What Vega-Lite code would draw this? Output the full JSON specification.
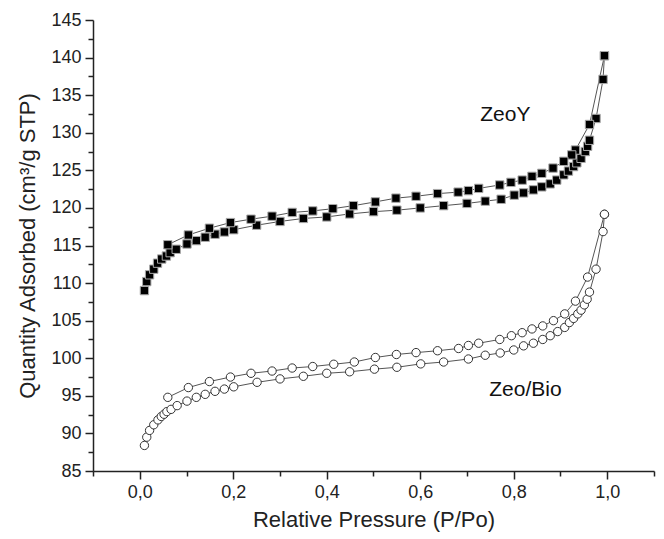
{
  "$schema": "https://vega.github.io/schema/vega-lite/v6.json",
  "width": 561,
  "height": 451,
  "autosize": {"type": "none"},
  "padding": {"left": 93, "top": 20, "right": 10, "bottom": 68},
  "background": "white",
  "config": {
    "view": {"stroke": null},
    "font": "Liberation Sans",
    "axis": {
      "grid": false,
      "domainColor": "#222",
      "domainWidth": 1.5,
      "tickColor": "#222",
      "tickWidth": 1.5,
      "labelColor": "#222",
      "labelFont": "Liberation Sans",
      "labelFontSize": 18,
      "titleFont": "Liberation Sans",
      "titleFontSize": 22,
      "titleFontWeight": "normal",
      "titleColor": "#222",
      "labelFlush": false
    }
  },
  "datasets": {
    "iso": [
      {"s": "ZeoY", "curve": "ZeoY-ads", "i": 1, "p": 0.010, "q": 109.0},
      {"s": "ZeoY", "curve": "ZeoY-ads", "i": 2, "p": 0.015, "q": 110.2},
      {"s": "ZeoY", "curve": "ZeoY-ads", "i": 3, "p": 0.021, "q": 111.1},
      {"s": "ZeoY", "curve": "ZeoY-ads", "i": 4, "p": 0.030, "q": 111.85},
      {"s": "ZeoY", "curve": "ZeoY-ads", "i": 5, "p": 0.038, "q": 112.65},
      {"s": "ZeoY", "curve": "ZeoY-ads", "i": 6, "p": 0.047, "q": 113.2},
      {"s": "ZeoY", "curve": "ZeoY-ads", "i": 7, "p": 0.057, "q": 113.6},
      {"s": "ZeoY", "curve": "ZeoY-ads", "i": 8, "p": 0.065, "q": 114.05},
      {"s": "ZeoY", "curve": "ZeoY-ads", "i": 9, "p": 0.078, "q": 114.5},
      {"s": "ZeoY", "curve": "ZeoY-ads", "i": 10, "p": 0.101, "q": 115.2},
      {"s": "ZeoY", "curve": "ZeoY-ads", "i": 11, "p": 0.121, "q": 115.65},
      {"s": "ZeoY", "curve": "ZeoY-ads", "i": 12, "p": 0.140, "q": 116.1},
      {"s": "ZeoY", "curve": "ZeoY-ads", "i": 13, "p": 0.161, "q": 116.5},
      {"s": "ZeoY", "curve": "ZeoY-ads", "i": 14, "p": 0.181, "q": 116.8},
      {"s": "ZeoY", "curve": "ZeoY-ads", "i": 15, "p": 0.201, "q": 117.1},
      {"s": "ZeoY", "curve": "ZeoY-ads", "i": 16, "p": 0.250, "q": 117.7},
      {"s": "ZeoY", "curve": "ZeoY-ads", "i": 17, "p": 0.300, "q": 118.2},
      {"s": "ZeoY", "curve": "ZeoY-ads", "i": 18, "p": 0.350, "q": 118.6},
      {"s": "ZeoY", "curve": "ZeoY-ads", "i": 19, "p": 0.400, "q": 118.8},
      {"s": "ZeoY", "curve": "ZeoY-ads", "i": 20, "p": 0.449, "q": 119.2},
      {"s": "ZeoY", "curve": "ZeoY-ads", "i": 21, "p": 0.500, "q": 119.5},
      {"s": "ZeoY", "curve": "ZeoY-ads", "i": 22, "p": 0.550, "q": 119.7},
      {"s": "ZeoY", "curve": "ZeoY-ads", "i": 23, "p": 0.600, "q": 120.0},
      {"s": "ZeoY", "curve": "ZeoY-ads", "i": 24, "p": 0.650, "q": 120.3},
      {"s": "ZeoY", "curve": "ZeoY-ads", "i": 25, "p": 0.700, "q": 120.6},
      {"s": "ZeoY", "curve": "ZeoY-ads", "i": 26, "p": 0.739, "q": 120.9},
      {"s": "ZeoY", "curve": "ZeoY-ads", "i": 27, "p": 0.773, "q": 121.15},
      {"s": "ZeoY", "curve": "ZeoY-ads", "i": 28, "p": 0.801, "q": 121.7},
      {"s": "ZeoY", "curve": "ZeoY-ads", "i": 29, "p": 0.821, "q": 122.0},
      {"s": "ZeoY", "curve": "ZeoY-ads", "i": 30, "p": 0.842, "q": 122.4},
      {"s": "ZeoY", "curve": "ZeoY-ads", "i": 31, "p": 0.860, "q": 122.8},
      {"s": "ZeoY", "curve": "ZeoY-ads", "i": 32, "p": 0.878, "q": 123.2},
      {"s": "ZeoY", "curve": "ZeoY-ads", "i": 33, "p": 0.892, "q": 123.7},
      {"s": "ZeoY", "curve": "ZeoY-ads", "i": 34, "p": 0.907, "q": 124.4},
      {"s": "ZeoY", "curve": "ZeoY-ads", "i": 35, "p": 0.917, "q": 124.9},
      {"s": "ZeoY", "curve": "ZeoY-ads", "i": 36, "p": 0.928, "q": 125.5},
      {"s": "ZeoY", "curve": "ZeoY-ads", "i": 37, "p": 0.935, "q": 126.0},
      {"s": "ZeoY", "curve": "ZeoY-ads", "i": 38, "p": 0.944, "q": 126.6},
      {"s": "ZeoY", "curve": "ZeoY-ads", "i": 39, "p": 0.953, "q": 127.5},
      {"s": "ZeoY", "curve": "ZeoY-ads", "i": 40, "p": 0.958, "q": 128.2},
      {"s": "ZeoY", "curve": "ZeoY-ads", "i": 41, "p": 0.962, "q": 129.0},
      {"s": "ZeoY", "curve": "ZeoY-ads", "i": 42, "p": 0.976, "q": 131.9},
      {"s": "ZeoY", "curve": "ZeoY-ads", "i": 43, "p": 0.991, "q": 137.1},
      {"s": "ZeoY", "curve": "ZeoY-ads", "i": 44, "p": 0.994, "q": 140.25},
      {"s": "ZeoY", "curve": "ZeoY-des", "i": 1, "p": 0.994, "q": 140.25},
      {"s": "ZeoY", "curve": "ZeoY-des", "i": 2, "p": 0.962, "q": 131.1},
      {"s": "ZeoY", "curve": "ZeoY-des", "i": 3, "p": 0.932, "q": 127.7},
      {"s": "ZeoY", "curve": "ZeoY-des", "i": 4, "p": 0.924, "q": 127.05},
      {"s": "ZeoY", "curve": "ZeoY-des", "i": 5, "p": 0.907, "q": 126.2},
      {"s": "ZeoY", "curve": "ZeoY-des", "i": 6, "p": 0.884, "q": 125.3},
      {"s": "ZeoY", "curve": "ZeoY-des", "i": 7, "p": 0.860, "q": 124.6},
      {"s": "ZeoY", "curve": "ZeoY-des", "i": 8, "p": 0.839, "q": 124.2},
      {"s": "ZeoY", "curve": "ZeoY-des", "i": 9, "p": 0.818, "q": 123.7},
      {"s": "ZeoY", "curve": "ZeoY-des", "i": 10, "p": 0.794, "q": 123.4},
      {"s": "ZeoY", "curve": "ZeoY-des", "i": 11, "p": 0.770, "q": 123.05},
      {"s": "ZeoY", "curve": "ZeoY-des", "i": 12, "p": 0.725, "q": 122.6},
      {"s": "ZeoY", "curve": "ZeoY-des", "i": 13, "p": 0.703, "q": 122.3},
      {"s": "ZeoY", "curve": "ZeoY-des", "i": 14, "p": 0.681, "q": 122.1},
      {"s": "ZeoY", "curve": "ZeoY-des", "i": 15, "p": 0.637, "q": 121.9},
      {"s": "ZeoY", "curve": "ZeoY-des", "i": 16, "p": 0.591, "q": 121.55},
      {"s": "ZeoY", "curve": "ZeoY-des", "i": 17, "p": 0.548, "q": 121.3},
      {"s": "ZeoY", "curve": "ZeoY-des", "i": 18, "p": 0.504, "q": 120.8},
      {"s": "ZeoY", "curve": "ZeoY-des", "i": 19, "p": 0.457, "q": 120.3},
      {"s": "ZeoY", "curve": "ZeoY-des", "i": 20, "p": 0.413, "q": 119.9},
      {"s": "ZeoY", "curve": "ZeoY-des", "i": 21, "p": 0.370, "q": 119.6},
      {"s": "ZeoY", "curve": "ZeoY-des", "i": 22, "p": 0.326, "q": 119.4},
      {"s": "ZeoY", "curve": "ZeoY-des", "i": 23, "p": 0.283, "q": 118.9},
      {"s": "ZeoY", "curve": "ZeoY-des", "i": 24, "p": 0.238, "q": 118.5},
      {"s": "ZeoY", "curve": "ZeoY-des", "i": 25, "p": 0.194, "q": 118.05},
      {"s": "ZeoY", "curve": "ZeoY-des", "i": 26, "p": 0.149, "q": 117.3},
      {"s": "ZeoY", "curve": "ZeoY-des", "i": 27, "p": 0.104, "q": 116.4},
      {"s": "ZeoY", "curve": "ZeoY-des", "i": 28, "p": 0.060, "q": 115.1},
      {"s": "Zeo/Bio", "curve": "Bio-ads", "i": 1, "p": 0.010, "q": 88.4},
      {"s": "Zeo/Bio", "curve": "Bio-ads", "i": 2, "p": 0.015, "q": 89.5},
      {"s": "Zeo/Bio", "curve": "Bio-ads", "i": 3, "p": 0.021, "q": 90.4},
      {"s": "Zeo/Bio", "curve": "Bio-ads", "i": 4, "p": 0.030, "q": 91.15},
      {"s": "Zeo/Bio", "curve": "Bio-ads", "i": 5, "p": 0.039, "q": 91.8},
      {"s": "Zeo/Bio", "curve": "Bio-ads", "i": 6, "p": 0.046, "q": 92.25},
      {"s": "Zeo/Bio", "curve": "Bio-ads", "i": 7, "p": 0.052, "q": 92.55},
      {"s": "Zeo/Bio", "curve": "Bio-ads", "i": 8, "p": 0.058, "q": 92.9},
      {"s": "Zeo/Bio", "curve": "Bio-ads", "i": 9, "p": 0.067, "q": 93.2},
      {"s": "Zeo/Bio", "curve": "Bio-ads", "i": 10, "p": 0.080, "q": 93.7},
      {"s": "Zeo/Bio", "curve": "Bio-ads", "i": 11, "p": 0.101, "q": 94.3},
      {"s": "Zeo/Bio", "curve": "Bio-ads", "i": 12, "p": 0.121, "q": 94.8},
      {"s": "Zeo/Bio", "curve": "Bio-ads", "i": 13, "p": 0.140, "q": 95.2},
      {"s": "Zeo/Bio", "curve": "Bio-ads", "i": 14, "p": 0.161, "q": 95.6},
      {"s": "Zeo/Bio", "curve": "Bio-ads", "i": 15, "p": 0.181, "q": 95.9},
      {"s": "Zeo/Bio", "curve": "Bio-ads", "i": 16, "p": 0.201, "q": 96.2},
      {"s": "Zeo/Bio", "curve": "Bio-ads", "i": 17, "p": 0.251, "q": 96.8},
      {"s": "Zeo/Bio", "curve": "Bio-ads", "i": 18, "p": 0.300, "q": 97.25},
      {"s": "Zeo/Bio", "curve": "Bio-ads", "i": 19, "p": 0.350, "q": 97.6},
      {"s": "Zeo/Bio", "curve": "Bio-ads", "i": 20, "p": 0.400, "q": 98.0},
      {"s": "Zeo/Bio", "curve": "Bio-ads", "i": 21, "p": 0.449, "q": 98.2},
      {"s": "Zeo/Bio", "curve": "Bio-ads", "i": 22, "p": 0.502, "q": 98.55},
      {"s": "Zeo/Bio", "curve": "Bio-ads", "i": 23, "p": 0.550, "q": 98.8},
      {"s": "Zeo/Bio", "curve": "Bio-ads", "i": 24, "p": 0.601, "q": 99.25},
      {"s": "Zeo/Bio", "curve": "Bio-ads", "i": 25, "p": 0.650, "q": 99.5},
      {"s": "Zeo/Bio", "curve": "Bio-ads", "i": 26, "p": 0.703, "q": 99.9},
      {"s": "Zeo/Bio", "curve": "Bio-ads", "i": 27, "p": 0.739, "q": 100.4},
      {"s": "Zeo/Bio", "curve": "Bio-ads", "i": 28, "p": 0.771, "q": 100.7},
      {"s": "Zeo/Bio", "curve": "Bio-ads", "i": 29, "p": 0.800, "q": 101.1},
      {"s": "Zeo/Bio", "curve": "Bio-ads", "i": 30, "p": 0.821, "q": 101.65},
      {"s": "Zeo/Bio", "curve": "Bio-ads", "i": 31, "p": 0.842, "q": 102.0},
      {"s": "Zeo/Bio", "curve": "Bio-ads", "i": 32, "p": 0.862, "q": 102.5},
      {"s": "Zeo/Bio", "curve": "Bio-ads", "i": 33, "p": 0.878, "q": 103.0},
      {"s": "Zeo/Bio", "curve": "Bio-ads", "i": 34, "p": 0.894, "q": 103.55},
      {"s": "Zeo/Bio", "curve": "Bio-ads", "i": 35, "p": 0.909, "q": 104.1},
      {"s": "Zeo/Bio", "curve": "Bio-ads", "i": 36, "p": 0.919, "q": 104.75},
      {"s": "Zeo/Bio", "curve": "Bio-ads", "i": 37, "p": 0.928, "q": 105.3},
      {"s": "Zeo/Bio", "curve": "Bio-ads", "i": 38, "p": 0.937, "q": 105.9},
      {"s": "Zeo/Bio", "curve": "Bio-ads", "i": 39, "p": 0.944, "q": 106.4},
      {"s": "Zeo/Bio", "curve": "Bio-ads", "i": 40, "p": 0.951, "q": 107.1},
      {"s": "Zeo/Bio", "curve": "Bio-ads", "i": 41, "p": 0.957, "q": 107.85},
      {"s": "Zeo/Bio", "curve": "Bio-ads", "i": 42, "p": 0.962, "q": 108.8},
      {"s": "Zeo/Bio", "curve": "Bio-ads", "i": 43, "p": 0.976, "q": 111.85},
      {"s": "Zeo/Bio", "curve": "Bio-ads", "i": 44, "p": 0.991, "q": 116.85},
      {"s": "Zeo/Bio", "curve": "Bio-ads", "i": 45, "p": 0.994, "q": 119.15},
      {"s": "Zeo/Bio", "curve": "Bio-des", "i": 1, "p": 0.994, "q": 119.15},
      {"s": "Zeo/Bio", "curve": "Bio-des", "i": 2, "p": 0.958, "q": 110.8},
      {"s": "Zeo/Bio", "curve": "Bio-des", "i": 3, "p": 0.932, "q": 107.6},
      {"s": "Zeo/Bio", "curve": "Bio-des", "i": 4, "p": 0.909, "q": 105.9},
      {"s": "Zeo/Bio", "curve": "Bio-des", "i": 5, "p": 0.885, "q": 105.0},
      {"s": "Zeo/Bio", "curve": "Bio-des", "i": 6, "p": 0.862, "q": 104.3},
      {"s": "Zeo/Bio", "curve": "Bio-des", "i": 7, "p": 0.839, "q": 103.9},
      {"s": "Zeo/Bio", "curve": "Bio-des", "i": 8, "p": 0.818, "q": 103.4},
      {"s": "Zeo/Bio", "curve": "Bio-des", "i": 9, "p": 0.795, "q": 103.0},
      {"s": "Zeo/Bio", "curve": "Bio-des", "i": 10, "p": 0.770, "q": 102.5},
      {"s": "Zeo/Bio", "curve": "Bio-des", "i": 11, "p": 0.725, "q": 102.0},
      {"s": "Zeo/Bio", "curve": "Bio-des", "i": 12, "p": 0.703, "q": 101.7},
      {"s": "Zeo/Bio", "curve": "Bio-des", "i": 13, "p": 0.682, "q": 101.3},
      {"s": "Zeo/Bio", "curve": "Bio-des", "i": 14, "p": 0.637, "q": 101.0},
      {"s": "Zeo/Bio", "curve": "Bio-des", "i": 15, "p": 0.591, "q": 100.75},
      {"s": "Zeo/Bio", "curve": "Bio-des", "i": 16, "p": 0.549, "q": 100.5},
      {"s": "Zeo/Bio", "curve": "Bio-des", "i": 17, "p": 0.504, "q": 100.1},
      {"s": "Zeo/Bio", "curve": "Bio-des", "i": 18, "p": 0.459, "q": 99.5},
      {"s": "Zeo/Bio", "curve": "Bio-des", "i": 19, "p": 0.415, "q": 99.2},
      {"s": "Zeo/Bio", "curve": "Bio-des", "i": 20, "p": 0.370, "q": 98.9},
      {"s": "Zeo/Bio", "curve": "Bio-des", "i": 21, "p": 0.326, "q": 98.7},
      {"s": "Zeo/Bio", "curve": "Bio-des", "i": 22, "p": 0.283, "q": 98.3},
      {"s": "Zeo/Bio", "curve": "Bio-des", "i": 23, "p": 0.238, "q": 98.0},
      {"s": "Zeo/Bio", "curve": "Bio-des", "i": 24, "p": 0.194, "q": 97.5},
      {"s": "Zeo/Bio", "curve": "Bio-des", "i": 25, "p": 0.149, "q": 96.9},
      {"s": "Zeo/Bio", "curve": "Bio-des", "i": 26, "p": 0.104, "q": 96.1},
      {"s": "Zeo/Bio", "curve": "Bio-des", "i": 27, "p": 0.060, "q": 94.8}
    ],
    "labels": [
      {"text": "ZeoY", "p": 0.782, "q": 132.4},
      {"text": "Zeo/Bio", "p": 0.825, "q": 95.8}
    ]
  },
  "layer": [
    {
      "data": {"name": "iso"},
      "mark": {"type": "line", "color": "#555", "strokeWidth": 1},
      "encoding": {
        "x": {
          "field": "p", "type": "quantitative",
          "scale": {"domain": [-0.1, 1.1], "nice": false, "zero": false},
          "axis": {
            "orient": "bottom",
            "values": [0, 0.2, 0.4, 0.6, 0.8, 1.0],
            "labelExpr": "replace(format(datum.value, '.1f'), '.', ',')",
            "tickSize": 8,
            "labelPadding": 4,
            "title": "Relative Pressure (P/Po)",
            "titlePadding": 8
          }
        },
        "y": {
          "field": "q", "type": "quantitative",
          "scale": {"domain": [85, 145], "nice": false, "zero": false},
          "axis": {
            "orient": "left",
            "values": [85, 90, 95, 100, 105, 110, 115, 120, 125, 130, 135, 140, 145],
            "tickSize": 8,
            "labelPadding": 4,
            "title": "Quantity Adsorbed (cm³/g STP)",
            "titlePadding": 11
          }
        },
        "detail": {"field": "curve"},
        "order": {"field": "i", "type": "quantitative"}
      }
    },
    {
      "data": {"name": "iso"},
      "mark": {"type": "point", "size": 70, "strokeWidth": 1, "opacity": 1, "filled": false},
      "encoding": {
        "x": {
          "field": "p", "type": "quantitative",
          "axis": {
            "orient": "bottom",
            "values": [-0.1, 0.1, 0.3, 0.5, 0.7, 0.9, 1.1],
            "tickSize": 5,
            "labels": false,
            "domain": false,
            "title": null
          }
        },
        "y": {
          "field": "q", "type": "quantitative",
          "axis": {
            "orient": "left",
            "values": [87.5, 92.5, 97.5, 102.5, 107.5, 112.5, 117.5, 122.5, 127.5, 132.5, 137.5, 142.5],
            "tickSize": 5,
            "labels": false,
            "domain": false,
            "title": null
          }
        },
        "shape": {"field": "s", "type": "nominal", "scale": {"domain": ["ZeoY", "Zeo/Bio"], "range": ["square", "circle"]}, "legend": null},
        "fill": {"field": "s", "type": "nominal", "scale": {"domain": ["ZeoY", "Zeo/Bio"], "range": ["#000000", "#ffffff"]}, "legend": null},
        "stroke": {"field": "s", "type": "nominal", "scale": {"domain": ["ZeoY", "Zeo/Bio"], "range": ["#aaaaaa", "#333333"]}, "legend": null}
      }
    },
    {
      "data": {"name": "labels"},
      "mark": {"type": "text", "font": "Liberation Sans", "fontSize": 21, "color": "#111", "align": "center", "baseline": "middle"},
      "encoding": {
        "x": {"field": "p", "type": "quantitative", "axis": null},
        "y": {"field": "q", "type": "quantitative", "axis": null},
        "text": {"field": "text"}
      }
    }
  ],
  "resolve": {"axis": {"x": "independent", "y": "independent"}}
}
